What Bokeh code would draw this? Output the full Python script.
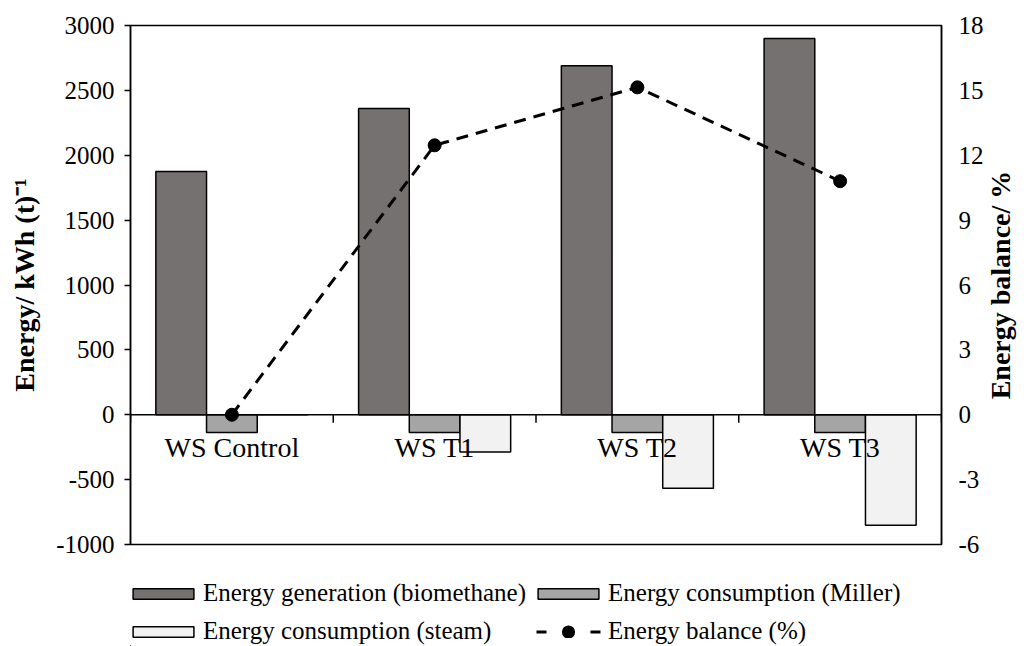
import math
from bokeh.plotting import figure
from bokeh.layouts import column, row
from bokeh.models import (Range1d, SingleIntervalTicker, LinearAxis, Span,
                          Legend, LegendItem, ColumnDataSource, NumeralTickFormatter)
from bokeh.core.properties import value
from bokeh.embed import file_html
from bokeh.resources import INLINE

# ---- data ----
categories = ["WS Control", "WS T1", "WS T2", "WS T3"]
biomethane = [1875, 2360, 2690, 2900]
miller = [-137, -137, -137, -137]
steam = [0, -288, -566, -851]
balance = [0.0, 12.46, 15.14, 10.8]

labels = ["Energy generation (biomethane)", "Energy consumption (Miller)",
          "Energy consumption (steam)", "Energy balance (%)"]
y2_title = "Energy balance/ %"

FONT = "Liberation Serif"
n = len(categories)
centers = [i + 0.5 for i in range(n)]
bounds = list(range(n + 1))
bw = 0.25
Y0, Y1 = -1000, 3000
B0, B1 = -6, 18
FRAME_H = 519

p = figure(width=986, height=560, x_range=Range1d(0, n), y_range=Range1d(Y0, Y1),
           output_backend="svg", toolbar_location=None, x_axis_location=None,
           min_border_left=130, min_border_right=44, min_border_top=25, min_border_bottom=16)
p.extra_y_ranges = {"bal": Range1d(B0, B1)}
p.grid.visible = False
p.outline_line_color = "black"
p.outline_line_width = 1.5
p.background_fill_color = "white"
p.border_fill_color = "white"

# left axis
ya = p.yaxis[0]
ya.ticker = SingleIntervalTicker(interval=500, num_minor_ticks=0)
ya.formatter = NumeralTickFormatter(format="0")
ya.axis_label = "Energy/ kWh (t)\u207b\u00b9"
ya.axis_label_text_font = FONT
ya.axis_label_text_font_style = "bold"
ya.axis_label_text_font_size = "28px"
ya.axis_label_text_color = "black"
ya.axis_label_standoff = 13
ya.major_label_text_font = FONT
ya.major_label_text_font_size = "25px"
ya.major_label_text_color = "black"
ya.major_label_standoff = 10
ya.major_tick_in = 0
ya.major_tick_out = 6
ya.minor_tick_line_color = None
ya.axis_line_color = "black"
ya.axis_line_width = 1.5
ya.major_tick_line_width = 1.5

# right axis (its title is drawn in the narrow strip to the right)
ra = LinearAxis(y_range_name="bal", ticker=SingleIntervalTicker(interval=3, num_minor_ticks=0),
                formatter=NumeralTickFormatter(format="0"))
ra.major_label_text_font = FONT
ra.major_label_text_font_size = "25px"
ra.major_label_text_color = "black"
ra.major_label_standoff = 11
ra.major_tick_line_color = None
ra.minor_tick_line_color = None
ra.axis_line_color = "black"
ra.axis_line_width = 1.5
p.add_layout(ra, "right")

# zero line and category boundary ticks
p.add_layout(Span(location=0, dimension="width", line_color="black", line_width=1.5))
tick_len = 8 * (Y1 - Y0) / FRAME_H
p.segment(x0=bounds, y0=[0] * len(bounds), x1=bounds, y1=[-tick_len] * len(bounds),
          line_color="black", line_width=1.5)

# bars
src = ColumnDataSource(dict(
    xb=[c - bw for c in centers], xm=list(centers), xs=[c + bw for c in centers],
    bio=biomethane, mil=miller, stm=steam))
bar_styles = [("xb", "bio", "#767171"), ("xm", "mil", "#A5A5A5"), ("xs", "stm", "#F2F2F2")]
for xcol, ycol, col in bar_styles:
    if ycol == "bio":
        p.vbar(x=xcol, top=ycol, bottom=0, width=bw, source=src,
               fill_color=col, line_color="black", line_width=1.5)
    else:
        p.vbar(x=xcol, top=0, bottom=ycol, width=bw, source=src,
               fill_color=col, line_color="black", line_width=1.5)

# category labels (drawn over the bars)
p.text(x=centers, y=[0] * n, text=categories, y_offset=17, text_align="center",
       text_baseline="top", text_font=value(FONT), text_font_size="28px", text_color="black")

# balance line
bsrc = ColumnDataSource(dict(x=centers, y=balance))
p.line("x", "y", source=bsrc, y_range_name="bal", line_color="black",
       line_width=3, line_dash="12 8")
p.scatter("x", "y", source=bsrc, y_range_name="bal", size=13,
          fill_color="black", line_color="black")

# ---- right title strip (reads bottom to top) ----
rt = figure(width=45, height=560, x_range=Range1d(0, 1), y_range=Range1d(0, 1),
            output_backend="svg", toolbar_location=None, x_axis_location=None,
            y_axis_location=None, min_border=0)
rt.outline_line_color = None
rt.grid.visible = False
rt.text(x=[0.3], y=[0.5], text=[y2_title], angle=math.pi / 2, text_align="center",
        text_baseline="middle", text_font=value(FONT), text_font_size="28px",
        text_font_style="bold", text_color="black")

# ---- legend strip (separate figure; its key glyphs fall outside its view) ----
lg = figure(width=1031, height=86, x_range=Range1d(1000, 1001), y_range=Range1d(100000, 100001),
            output_backend="svg", toolbar_location=None, x_axis_location=None,
            y_axis_location=None, min_border=0, min_border_left=130)
lg.outline_line_color = None
lg.grid.visible = False
lr = []
for xcol, ycol, col in bar_styles:
    lr.append(lg.vbar(x=xcol, top=ycol, bottom=0, width=bw, source=src,
                      fill_color=col, line_color="black", line_width=1.5))
l_line = lg.line("x", "y", source=bsrc, line_color="black", line_width=3,
                 line_dash="0 6 10 44 10 6")
l_dot = lg.scatter("x", "y", source=bsrc, fill_color="black", line_color="black",
                   line_width=8)

leg = Legend(items=[LegendItem(label=labels[0], renderers=[lr[0]]),
                    LegendItem(label=labels[2], renderers=[lr[2]]),
                    LegendItem(label=labels[1], renderers=[lr[1]]),
                    LegendItem(label=labels[3], renderers=[l_line, l_dot])],
             ncols=2, location=(-5, -2),
             padding=0, margin=0, spacing=4,
             border_line_color=None, background_fill_alpha=0,
             glyph_width=76, glyph_height=13, label_standoff=2, label_height=34,
             label_text_font=FONT, label_text_font_size="25px", label_text_color="black")
lg.add_layout(leg)

layout = column(row(p, rt, spacing=0), lg, spacing=0)
open("out.html", "w").write(file_html(layout, INLINE))
